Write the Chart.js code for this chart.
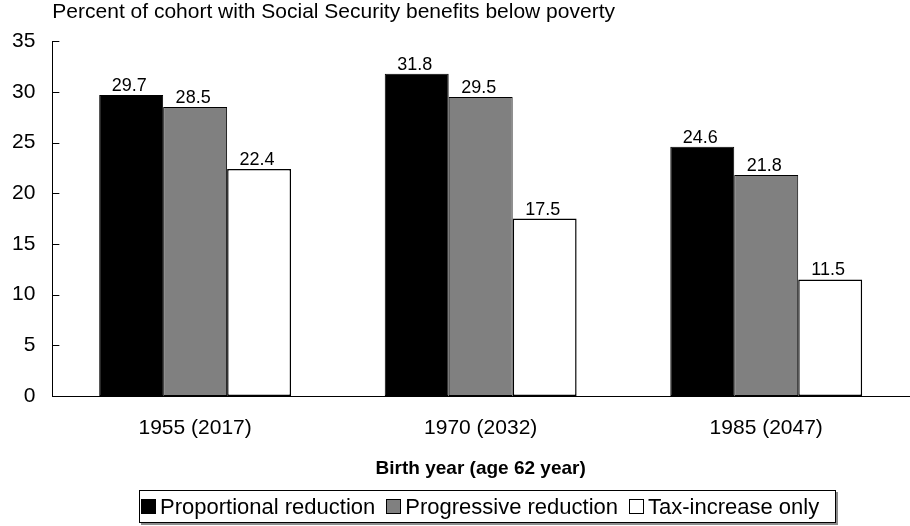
<!DOCTYPE html>
<html>
<head>
<meta charset="utf-8">
<script src="https://cdn.jsdelivr.net/npm/chart.js@4.4.0/dist/chart.umd.min.js"></script>
<style>
  body { margin: 0; background: #fff; }
  #wrap { position: relative; width: 910px; height: 526px; }
  #legend {
    position: absolute; left: 139px; top: 490px; width: 697px; height: 33px;
    box-sizing: border-box; border: 1px solid #000; box-shadow: 2px 2px 0 #8c8c8c;
    display: flex; align-items: center; padding-left: 1px;
    font: 22px "Liberation Sans", Arial, sans-serif; color: #000; background: #fff;
  }
  .item { display: flex; align-items: center; margin-right: 11px; white-space: nowrap; }
  .sw { width: 15px; height: 15px; box-sizing: border-box; border: 1.5px solid #000; margin-right: 4px; }
</style>
</head>
<body>
<div id="wrap">
  <canvas id="chart" width="910" height="526"></canvas>
  <div id="legend"></div>
</div>
<script>
// Chart data
const categories = ['1955 (2017)', '1970 (2032)', '1985 (2047)'];
const proportional = [29.7, 31.8, 24.6];
const progressive = [28.5, 29.5, 21.8];
const taxIncrease = [22.4, 17.5, 11.5];
const seriesNames = ['Proportional reduction', 'Progressive reduction', 'Tax-increase only'];
const seriesColors = ['#000000', '#808080', '#ffffff'];

Chart.defaults.font.family = '"Liberation Sans", Arial, sans-serif';
Chart.defaults.color = '#000';

// value labels above each bar
const valueLabels = {
    id: 'valueLabels',
    afterDatasetsDraw(chart) {
        const ctx = chart.ctx;
        ctx.save();
        ctx.font = '18px "Liberation Sans", Arial, sans-serif';
        ctx.fillStyle = '#000';
        ctx.textAlign = 'center';
        ctx.textBaseline = 'alphabetic';
        chart.data.datasets.forEach((ds, i) => {
            chart.getDatasetMeta(i).data.forEach((bar, j) => {
                ctx.fillText(ds.data[j].toFixed(1), bar.x - 2, bar.y - 4);
            });
        });
        ctx.restore();
    }
};

// short tick marks pointing into the plot, like the original
const innerTicks = {
    id: 'innerTicks',
    afterDraw(chart) {
        const y = chart.scales.y;
        const ctx = chart.ctx;
        ctx.save();
        ctx.strokeStyle = '#000';
        ctx.lineWidth = 1;
        y.ticks.forEach(t => {
            const py = Math.round(y.getPixelForValue(t.value)) + 0.5;
            ctx.beginPath();
            ctx.moveTo(y.right, py);
            ctx.lineTo(y.right + 7, py);
            ctx.stroke();
        });
        ctx.restore();
    }
};

const datasets = [proportional, progressive, taxIncrease].map((data, i) => ({
    label: seriesNames[i],
    data: data,
    backgroundColor: seriesColors[i],
    borderColor: '#000',
    borderWidth: i === 2 ? 1.5 : 1,
    borderSkipped: false,
    categoryPercentage: 0.672,
    barPercentage: 1.0
}));

new Chart(document.getElementById('chart'), {
    type: 'bar',
    data: { labels: categories, datasets },
    options: {
        responsive: false,
        animation: false,
        layout: { padding: { left: -5, right: 1, top: 0, bottom: 46 } },
        plugins: {
            legend: { display: false },
            tooltip: { enabled: false },
            title: {
                display: true,
                text: 'Percent of cohort with Social Security benefits below poverty',
                align: 'start',
                fullSize: false,
                font: { size: 21, weight: 'normal' },
                padding: { top: 0, bottom: 16 }
            }
        },
        scales: {
            x: {
                grid: { display: false, drawTicks: false },
                border: { color: '#000' },
                ticks: { font: { size: 21 }, padding: 20 },
                title: {
                    display: true,
                    text: 'Birth year (age 62 year)',
                    font: { size: 19, weight: 'bold' },
                    padding: { top: -4, bottom: 0 }
                }
            },
            y: {
                min: 0,
                max: 35,
                grid: { display: false, drawTicks: false },
                border: { color: '#000' },
                ticks: { stepSize: 5, font: { size: 21 }, padding: 17 }
            }
        }
    },
    plugins: [valueLabels, innerTicks]
});

// legend drawn as html, boxed like the original
const legendEl = document.getElementById('legend');
seriesNames.forEach((name, i) => {
    const item = document.createElement('div');
    item.className = 'item';
    const sw = document.createElement('span');
    sw.className = 'sw';
    sw.style.background = seriesColors[i];
    const txt = document.createElement('span');
    txt.textContent = name;
    item.appendChild(sw);
    item.appendChild(txt);
    legendEl.appendChild(item);
});
</script>
</body>
</html>
